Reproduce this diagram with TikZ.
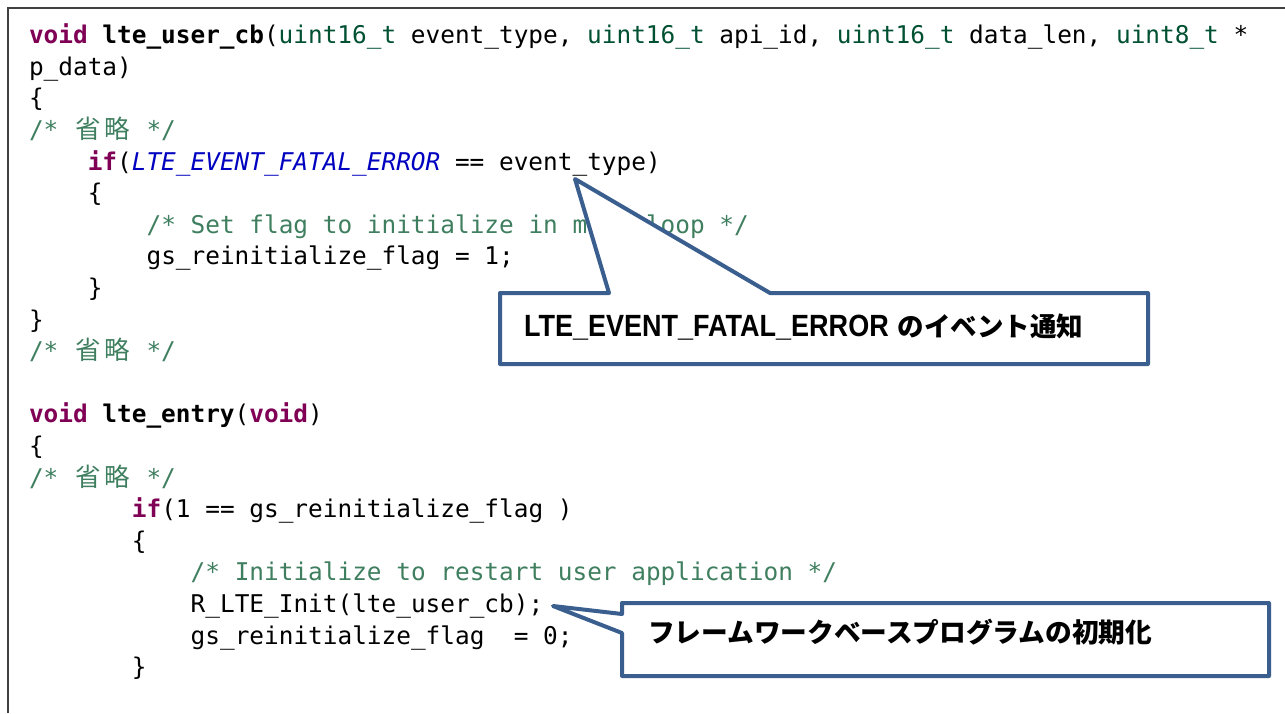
\documentclass[tikz,border=0pt]{standalone}
\usepackage{fontspec}
\usepackage{graphicx}
\setmainfont{Liberation Sans}
\newfontfamily\codefont{DejaVu Sans Mono}
\newfontfamily\cjk{Noto Sans CJK JP}
\definecolor{kwc}{HTML}{7F0055}
\definecolor{tyc}{HTML}{005032}
\definecolor{cmc}{HTML}{3F7F5F}
\definecolor{mcc}{HTML}{0000C0}
\definecolor{callblue}{HTML}{3A5F8F}
\definecolor{framec}{HTML}{404040}
\newlength\cw \setlength\cw{14.7pt}
\newcommand\kw[1]{\textcolor{kwc}{\bfseries #1}}
\newcommand\ty[1]{\textcolor{tyc}{#1}}
\newcommand\cmt[1]{\textcolor{cmc}{#1}}
\newcommand\mcr[1]{\textcolor{mcc}{\itshape #1}}
\newcommand\jc[1]{\makebox[2\cw][c]{\cjk\fontsize{25.5pt}{25.5pt}\selectfont #1}}
\newcommand\omitcmt{\cmt{/*\ \jc{省}\jc{略}\ */}}
\tikzset{
  codeline/.style={anchor=base west, inner sep=0pt, outer sep=0pt,
    font=\codefont\fontsize{24.4pt}{31.6pt}\selectfont},
  callout/.style={draw=callblue, fill=white, line width=4pt, line join=round},
  calltext/.style={anchor=base west, inner sep=0pt, outer sep=0pt, text=black}
}
\begin{document}
\begin{tikzpicture}[x=1pt,y=-1pt]
\useasboundingbox (0,0) rectangle (1285,713);
\fill[white] (0,0) rectangle (1285,713);
\draw[framec, line width=1.5pt] (8,713) -- (8,8) -- (1285,8);

\node[codeline] (l1) at (29,43.6) {\kw{void} \textbf{lte\_user\_cb}(\ty{uint16\_t} event\_type, \ty{uint16\_t} api\_id, \ty{uint16\_t} data\_len, \ty{uint8\_t} *};
\node[codeline] (l2) at (29,75.2) {p\_data)};
\node[codeline] (l3) at (29,106.8) {\{};
\node[codeline] (l4) at (29,138.4) {\omitcmt};
\node[codeline] (l5) at (87.8,170) {\kw{if}(\mcr{LTE\_EVENT\_FATAL\_ERROR} == event\_type)};
\node[codeline] (l6) at (87.8,201.6) {\{};
\node[codeline] (l7) at (146.6,233.2) {\cmt{/* Set flag to initialize in main loop */}};
\node[codeline] (l8) at (146.6,264.8) {gs\_reinitialize\_flag = 1;};
\node[codeline] (l9) at (87.8,296.4) {\}};
\node[codeline] (l10) at (29,328) {\}};
\node[codeline] (l11) at (29,359.6) {\omitcmt};
\node[codeline] (l13) at (29,422.8) {\kw{void} \textbf{lte\_entry}(\kw{void})};
\node[codeline] (l14) at (29,454.4) {\{};
\node[codeline] (l15) at (29,486) {\omitcmt};
\node[codeline] (l16) at (131.9,517.6) {\kw{if}(1 == gs\_reinitialize\_flag )};
\node[codeline] (l17) at (131.9,549.2) {\{};
\node[codeline] (l18) at (190.7,580.8) {\cmt{/* Initialize to restart user application */}};
\node[codeline] (l19) at (190.7,612.4) {R\_LTE\_Init(lte\_user\_cb);};
\node[codeline] (l20) at (190.7,644) {gs\_reinitialize\_flag\ \ = 0;};
\node[codeline] (l21) at (131.9,675.6) {\}};

% callout 1
\coordinate (c1tip) at (575,179);
\draw[callout] (500,293) -- (609,293) -- (c1tip) -- (770,293) -- (1148,293) -- (1148,364) -- (500,364) -- cycle;
\node[calltext] (t1) at (524,336) {\scalebox{0.88}[1]{\fontsize{30.7pt}{30.7pt}\selectfont\bfseries LTE\_EVENT\_FATAL\_ERROR}\hspace{9pt}{\cjk\bfseries\fontsize{26.5pt}{26.5pt}\selectfont のイベント通知}};

% callout 2
\coordinate (c2tip) at (553,606);
\draw[callout] (622,614) -- (622,603) -- (1269,603) -- (1269,676) -- (622,676) -- (622,633) -- (c2tip) -- cycle;
\node[calltext] (t2) at (648,642) {\cjk\bfseries\fontsize{26.7pt}{26.7pt}\selectfont フレームワークベースプログラムの初期化};
\end{tikzpicture}
\end{document}
